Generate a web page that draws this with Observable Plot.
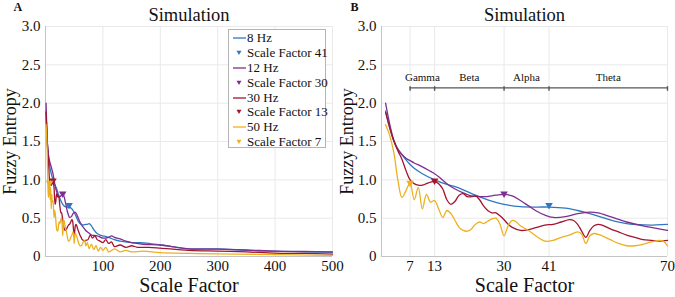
<!DOCTYPE html>
<html>
<head>
<meta charset="utf-8">
<script src="https://cdn.jsdelivr.net/npm/d3@7"></script>
<script src="https://cdn.jsdelivr.net/npm/@observablehq/plot@0.6"></script>
<style>
  html, body { margin: 0; padding: 0; background: #fff; }
  #wrap { position: relative; width: 675px; height: 297px; display: flex; font-family: "Liberation Serif", "Times New Roman", serif; }
  #wrap svg { display: block; overflow: visible; }
  #wrap text { font-family: "Liberation Serif", "Times New Roman", serif !important; }
  .legend { position: absolute; left: 228px; top: 29px; width: 98px; height: 119px; border: 1px solid #b4b4b4; background: #fff; box-sizing: border-box; padding-top: 1px; }
  .legend .row { display: flex; align-items: center; height: 14.8px; font-size: 13px; color: #111; white-space: nowrap; font-family: "Liberation Serif", "Times New Roman", serif; }
  .legend svg { flex: none; }
</style>
</head>
<body>
<div id="wrap"></div>
<script>
// ---------- data ----------
const seriesNames = ["8 Hz", "12 Hz", "30 Hz", "50 Hz"];
const seriesColors = ["#2f78c0", "#7E2F8E", "#A2142F", "#EDB120"];
const peakScale = [41, 30, 13, 7];
const peakValue = [0.67, 0.82, 0.99, 0.96];

const bandEdges = [7, 13, 30, 41, 70];
const bandNames = ["Gamma", "Beta", "Alpha", "Theta"];

const xTicksA = [100, 200, 300, 400, 500];
const xTicksB = [7, 13, 30, 41, 70];
const yTicks = [0, 0.5, 1, 1.5, 2, 2.5, 3];

// 8 Hz
const hz8Scale = [1,2,3,4,5,6,7,8,10,13,16,18,20,23,26,30,34,38,41,45,48,51,54,57,60,63,66,70];
const hz8Value = [1.90,1.68,1.51,1.40,1.33,1.26,1.20,1.15,1.08,1.00,0.94,0.91,0.87,0.80,0.74,0.68,0.65,0.645,0.645,0.63,0.60,0.56,0.51,0.46,0.43,0.415,0.41,0.42];
const hz8ScaleExt = [73,76,80,85,90,95,100,110,120,130,140,150,165,180,200,220,250,300,350,400,450,500];
const hz8ValueExt = [0.42,0.43,0.40,0.34,0.30,0.28,0.27,0.25,0.22,0.20,0.19,0.18,0.18,0.17,0.15,0.13,0.10,0.10,0.08,0.07,0.06,0.055];

// 12 Hz
const hz12Scale = [1,2,3,4,5,6,7,8,10,12,13,14,16,18,20,22,25,28,30,32,34,36,38,40,42,45,48,51,53,56,60,64,67,70];
const hz12Value = [2.0,1.73,1.52,1.40,1.33,1.28,1.25,1.22,1.17,1.11,1.08,1.04,0.95,0.88,0.83,0.79,0.78,0.80,0.81,0.79,0.73,0.66,0.59,0.54,0.51,0.52,0.56,0.58,0.57,0.52,0.45,0.40,0.37,0.34];
const hz12ScaleExt = [75,80,90,100,110,115,120,130,140,150,170,200,220,250,300,350,400,450,500];
const hz12ValueExt = [0.31,0.28,0.27,0.24,0.25,0.27,0.25,0.23,0.20,0.18,0.16,0.15,0.13,0.10,0.095,0.085,0.07,0.065,0.06];

// 30 Hz
const hz30Scale = [1,2,3,4,5,6,7,8,9,10,11,12,13,14,15,16,17,18,19,20,21,22,23,24,25,26,27,28,29,30,31,32,34,36,38,40,42,44,46,47,48,49,50,51,52,53,54,56,58,60,62,64,66,68,70];
const hz30Value = [1.88,1.68,1.51,1.38,1.27,1.12,1.0,0.95,0.93,0.93,0.95,0.97,0.98,0.95,0.88,0.74,0.68,0.72,0.80,0.82,0.78,0.78,0.79,0.74,0.66,0.60,0.57,0.57,0.53,0.48,0.42,0.38,0.34,0.35,0.38,0.41,0.42,0.45,0.48,0.47,0.42,0.33,0.25,0.34,0.40,0.42,0.41,0.36,0.32,0.28,0.25,0.22,0.21,0.20,0.21];
const hz30ScaleExt = [74,78,82,86,90,95,100,105,110,115,120,130,140,150,160,180,200,250,300,350,400,450,500];
const hz30ValueExt = [0.22,0.28,0.24,0.27,0.22,0.20,0.18,0.22,0.17,0.19,0.13,0.15,0.12,0.14,0.12,0.12,0.11,0.08,0.07,0.06,0.045,0.04,0.03];

// 50 Hz
const hz50Scale = [1,2,3,4,5,6,7,8,9,10,11,12,13,14,15,16,17,18,19,20,21,22,23,24,25,26,27,28,29,30,31,32,33,34,36,38,40,42,44,46,48,49,50,51,52,54,56,58,60,62,64,66,68,69,70];
const hz50Value = [1.72,1.58,1.36,1.0,0.77,0.86,0.96,0.74,0.90,0.62,0.81,0.71,0.73,0.62,0.51,0.60,0.56,0.47,0.38,0.34,0.33,0.36,0.42,0.45,0.43,0.46,0.49,0.50,0.42,0.27,0.40,0.47,0.45,0.40,0.34,0.26,0.20,0.21,0.25,0.28,0.32,0.29,0.17,0.27,0.30,0.27,0.22,0.17,0.14,0.14,0.16,0.19,0.21,0.20,0.14];
const hz50ScaleExt = [73,76,80,84,88,92,96,100,105,110,120,130,140,150,170,200,250,300,400,500];
const hz50ValueExt = [0.18,0.10,0.16,0.09,0.14,0.07,0.12,0.08,0.12,0.06,0.10,0.06,0.08,0.06,0.07,0.05,0.04,0.035,0.025,0.015];

// ---------- tables ----------
const seriesData = [
  [hz8Scale, hz8Value, hz8ScaleExt, hz8ValueExt],
  [hz12Scale, hz12Value, hz12ScaleExt, hz12ValueExt],
  [hz30Scale, hz30Value, hz30ScaleExt, hz30ValueExt],
  [hz50Scale, hz50Value, hz50ScaleExt, hz50ValueExt]
];
const rowsB = seriesData.flatMap(([s, v], i) => s.map((x, j) => ({series: seriesNames[i], scale: x, value: v[j]})));
const rowsA = seriesData.flatMap(([s, v, se, ve], i) =>
  s.concat(se).map((x, j) => ({series: seriesNames[i], scale: x, value: v.concat(ve)[j]})));
const peaks = seriesNames.map((name, i) => ({series: name, scale: peakScale[i], value: peakValue[i]}));
const bands = bandNames.map((name, i) => ({name, x1: bandEdges[i], x2: bandEdges[i + 1]}));

const FONT = "Liberation Serif";
const bandLevel = 2.2;

function panel({rows, width, marginLeft, marginRight, xDomain, xTicks, tag, withBands}) {
  const marks = [
    Plot.gridX(xTicks, {stroke: "#e9e9e9", strokeOpacity: 1}),
    Plot.gridY(yTicks, {stroke: "#e9e9e9", strokeOpacity: 1}),
    Plot.ruleX([xDomain[0]], {stroke: "#c4c4c4"}),
    Plot.ruleY([0], {stroke: "#c4c4c4"}),
    Plot.axisX({ticks: xTicks, tickSize: 0, tickPadding: 4, label: null, fontFamily: FONT, fontSize: 15}),
    Plot.axisY({ticks: yTicks, tickSize: 0, tickPadding: 5, label: null, fontFamily: FONT, fontSize: 15,
      tickFormat: d => d === 0 ? "0" : d.toFixed(1)}),
    Plot.line(rows, {x: "scale", y: "value", z: "series", stroke: "series", strokeWidth: 1.3, curve: "catmull-rom"}),
    Plot.dot(peaks, {x: "scale", y: "value", fill: "series", symbol: "triangle", rotate: 180, r: 2.8}),
    Plot.text(["Simulation"], {frameAnchor: "top", lineAnchor: "middle", dy: -11, fontSize: 18.5, fontFamily: FONT, fill: "#111"}),
    Plot.text([tag], {frameAnchor: "top-left", lineAnchor: "middle", dx: -marginLeft + 13, dy: -19, fontSize: 12, fontWeight: "bold", fontFamily: FONT, textAnchor: "start", fill: "#111"}),
    Plot.text(["Scale Factor"], {frameAnchor: "bottom", lineAnchor: "middle", dy: 29.5, fontSize: 20, fontFamily: FONT, fill: "#111"}),
    Plot.text(["Fuzzy Entropy"], {frameAnchor: "left", textAnchor: "middle", lineAnchor: "middle", dx: -marginLeft + 10, rotate: -90, fontSize: 18, fontFamily: FONT, fill: "#111"})
  ];
  if (withBands) {
    marks.push(
      Plot.ruleY([bandLevel], {x1: bandEdges[0], x2: bandEdges[bandEdges.length - 1], stroke: "#555", strokeWidth: 1.4}),
      Plot.ruleX(bandEdges, {x: d => d, y1: bandLevel - 0.045, y2: bandLevel + 0.015, stroke: "#555", strokeWidth: 1.4}),
      Plot.text(bands, {x: d => (d.x1 + d.x2) / 2, y: bandLevel + 0.13, text: "name", fontSize: 11, fontFamily: FONT, fill: "#111"})
    );
  }
  return Plot.plot({
    width, height: 297,
    marginLeft, marginRight, marginTop: 26, marginBottom: 41,
    style: {fontFamily: FONT, fontSize: "15px", color: "#111", background: "transparent", overflow: "visible"},
    x: {domain: xDomain},
    y: {domain: [0, 3]},
    color: {domain: seriesNames, range: seriesColors},
    marks
  });
}

const wrap = document.getElementById("wrap");
wrap.appendChild(panel({rows: rowsA, width: 337, marginLeft: 45, marginRight: 5, xDomain: [0, 500], xTicks: xTicksA, tag: "A", withBands: false}));
wrap.appendChild(panel({rows: rowsB, width: 338, marginLeft: 44, marginRight: 8, xDomain: [0, 70], xTicks: xTicksB, tag: "B", withBands: true}));

d3.selectAll("#wrap text").attr("font-family", FONT);

// legend
const legend = document.createElement("div");
legend.className = "legend";
seriesNames.forEach((name, i) => {
  const c = seriesColors[i];
  const r1 = document.createElement("div");
  r1.className = "row";
  r1.innerHTML = `<svg width="18" height="14"><line x1="4" x2="17" y1="7" y2="7" stroke="${c}" stroke-width="1.3"/></svg><span>${name}</span>`;
  const r2 = document.createElement("div");
  r2.className = "row";
  r2.innerHTML = `<svg width="18" height="14"><path d="M7.5,4.8 L12.5,4.8 L10,9 Z" fill="${c}"/></svg><span>Scale Factor ${peakScale[i]}</span>`;
  legend.appendChild(r1);
  legend.appendChild(r2);
});
wrap.appendChild(legend);
</script>
</body>
</html>
